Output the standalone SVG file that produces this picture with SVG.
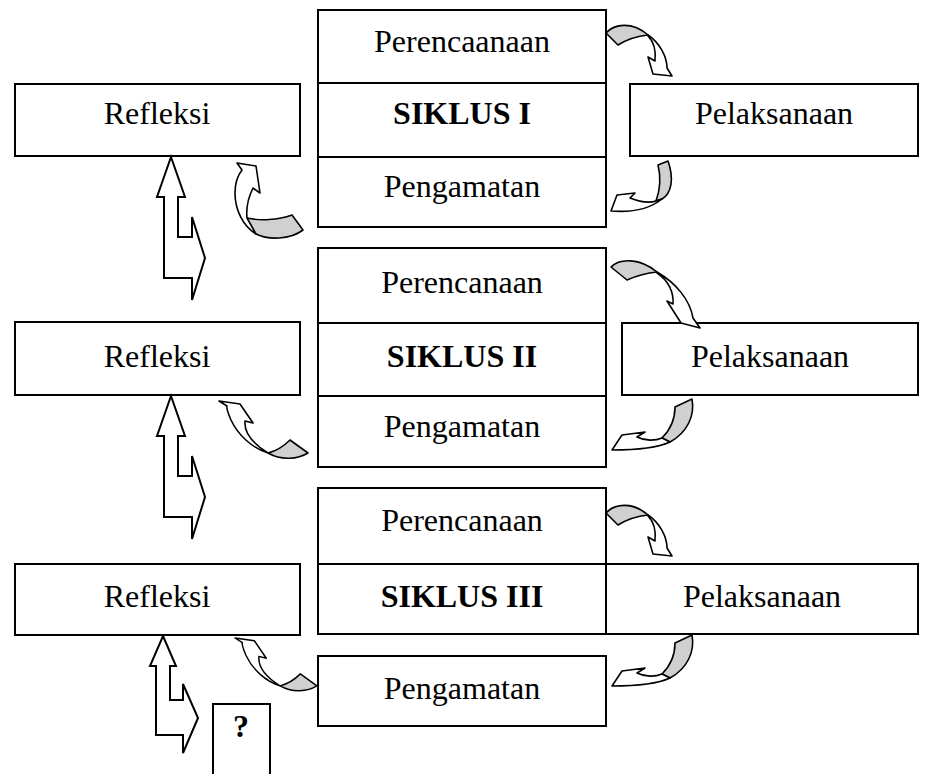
<svg xmlns="http://www.w3.org/2000/svg" xmlns:xlink="http://www.w3.org/1999/xlink" width="932" height="774" viewBox="0 0 932 774">
<style>
.box{fill:#fff;stroke:#000;stroke-width:2}
.t{font-family:"Liberation Serif","Times New Roman",serif;font-size:32px;fill:#000;text-anchor:middle}
.b{font-weight:bold}
.g{fill:#d0d0d0;stroke:#000;stroke-width:1.6;stroke-linejoin:round}
.w{fill:#fff;stroke:#000;stroke-width:1.6;stroke-linejoin:round}
.ud{fill:#fff;stroke:#000;stroke-width:2;stroke-linejoin:miter}
</style>
<defs>
<g id="cwTop">
<path class="g" d="M606,33 C614,24 632,21 648,35 C638,36 626,40 618,45 Z"/>
<path class="w" d="M648,35 C660,43 667,57 667,68 L672,76 L653,74 L648,57 L655,61 C656,52 654,42 648,36 Z"/>
</g>
<g id="cwBot">
<path class="g" d="M675,407 L692,399 C695,415 688,432 670,442 L662,438 C670,430 675,420 675,407 Z"/>
<path class="w" d="M670,442 C655,449 632,450 612,450 L622,435 L645,432 L637,437 C645,441 655,441 662,438 Z"/>
</g>
<g id="ccLeft">
<path class="g" d="M290,440 L308,453 C298,459 282,461 268,453 C276,451 284,446 290,440 Z"/>
<path class="w" d="M268,453 C252,448 238,435 231,420 C228,413 226,408 227,406 L219,401 L240,404 L253,423 L245,421 C244,432 252,443 268,453 Z"/>
</g>
</defs>

<!-- Cycle I -->
<g id="perencanaan1"><rect class="box" x="318" y="10" width="288" height="73"/><text class="t" x="462" y="52">Perencaanaan</text></g>
<g id="siklus1"><rect class="box" x="318" y="83" width="288" height="74"/><text class="t b" x="462" y="124">SIKLUS I</text></g>
<g id="pengamatan1"><rect class="box" x="318" y="157" width="288" height="70"/><text class="t" x="462" y="197">Pengamatan</text></g>
<g id="refleksi1"><rect class="box" x="15" y="84" width="285" height="72"/><text class="t" x="157" y="124">Refleksi</text></g>
<g id="pelaksanaan1"><rect class="box" x="630" y="84" width="288" height="72"/><text class="t" x="774" y="124">Pelaksanaan</text></g>

<!-- Cycle II -->
<g id="perencanaan2"><rect class="box" x="318" y="248" width="288" height="75"/><text class="t" x="462" y="293">Perencanaan</text></g>
<g id="siklus2"><rect class="box" x="318" y="323" width="288" height="73"/><text class="t b" x="462" y="367">SIKLUS II</text></g>
<g id="pengamatan2"><rect class="box" x="318" y="396" width="288" height="71"/><text class="t" x="462" y="437">Pengamatan</text></g>
<g id="refleksi2"><rect class="box" x="15" y="322" width="285" height="73"/><text class="t" x="157" y="367">Refleksi</text></g>
<g id="pelaksanaan2"><rect class="box" x="622" y="323" width="296" height="72"/><text class="t" x="770" y="367">Pelaksanaan</text></g>

<!-- Cycle III -->
<g id="perencanaan3"><rect class="box" x="318" y="488" width="288" height="76"/><text class="t" x="462" y="531">Perencanaan</text></g>
<g id="siklus3"><rect class="box" x="318" y="564" width="288" height="70"/><text class="t b" x="462" y="607">SIKLUS III</text></g>
<g id="pelaksanaan3"><rect class="box" x="606" y="564" width="312" height="70"/><text class="t" x="762" y="607">Pelaksanaan</text></g>
<g id="refleksi3"><rect class="box" x="15" y="564" width="285" height="71"/><text class="t" x="157" y="607">Refleksi</text></g>
<g id="pengamatan3"><rect class="box" x="318" y="656" width="288" height="70"/><text class="t" x="462" y="699">Pengamatan</text></g>
<g id="unknown"><rect class="box" x="213" y="704" width="57" height="80"/><text class="t b" x="241" y="737">?</text></g>

<!-- Connectors -->
<g id="connectors">
<!-- up-right arrows -->
<polygon class="ud" points="171,157 185,197 178,197 178,237 192,237 192,217 205,258 192,300 192,278 164,278 164,197 157,197"/>
<polygon class="ud" points="171,396 185,436 178,436 178,476 192,476 192,456 205,497 192,539 192,517 164,517 164,436 157,436"/>
<polygon class="ud" points="163,636 176,666 170,666 170,700 183,700 183,684 198,718 183,753 183,735 156,735 156,666 150,666"/>

<!-- Cycle I curved arrows -->
<use xlink:href="#cwTop"/>
<g>
<path class="g" d="M658,165 L668,161 C674,178 672,193 662,199 L656,201 C660,190 661,177 658,165 Z"/>
<path class="w" d="M662,199 C652,207 635,213 611,211 L617,195 L635,193 L630,198 C640,202 650,203 656,201 Z"/>
</g>
<g>
<path class="g" d="M292,215 L303,230 C290,240 268,240 256,234 C250,230 247,224 247,218 C260,221 278,220 292,215 Z"/>
<path class="w" d="M256,234 C243,226 235,210 235,193 C235,183 238,175 242,170 L237,163 L256,166 L260,193 L253,188 C248,198 246,208 247,218 Z"/>
</g>

<!-- Cycle II curved arrows -->
<g>
<path class="g" d="M611,267 C620,258 640,258 657,272 C646,273 636,276 627,280 Z"/>
<path class="w" d="M657,272 C676,283 690,300 693,318 L700,328 L681,323 L667,301 L673,304 C674,292 668,280 657,273 Z"/>
</g>
<use xlink:href="#cwBot"/>
<use xlink:href="#ccLeft"/>

<!-- Cycle III curved arrows -->
<use xlink:href="#cwTop" transform="translate(0,480)"/>
<use xlink:href="#cwBot" transform="translate(0,236)"/>
<use xlink:href="#ccLeft" transform="translate(235,638) scale(0.92) translate(-219,-401)"/>
</g>
</svg>
